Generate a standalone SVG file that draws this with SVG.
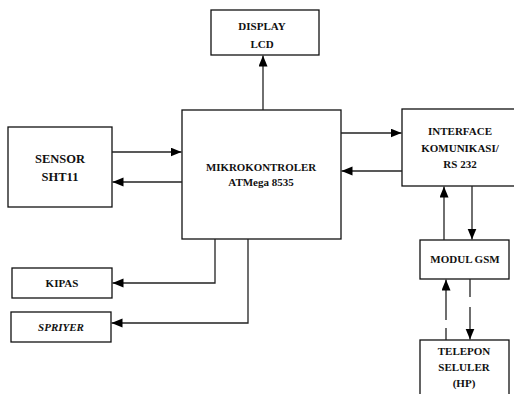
<svg xmlns="http://www.w3.org/2000/svg" width="514" height="394" viewBox="0 0 514 394">
<style>
.box{fill:#fff;stroke:#111;stroke-width:1.3}
.t{font-family:"Liberation Serif","Times New Roman",serif;font-weight:bold;font-size:11px;fill:#111;text-anchor:middle}
.c{fill:none;stroke:#222;stroke-width:1.3}
</style>
<defs>
<marker id="a" markerUnits="userSpaceOnUse" markerWidth="12" markerHeight="10" refX="11" refY="4.5" orient="auto">
<path d="M0,0 L11,4.5 L0,9 Z" fill="#000"/>
</marker>
</defs>
<rect width="514" height="394" fill="#fff"/>
<g id="display">
<rect class="box" x="211" y="10" width="108" height="45"/>
<text class="t" x="262" y="30">DISPLAY</text>
<text class="t" x="262" y="48">LCD</text>
</g>
<g id="sensor">
<rect class="box" x="8" y="127" width="104" height="80"/>
<text class="t" x="60" y="163" style="font-size:12.5px">SENSOR</text>
<text class="t" x="60" y="181" style="font-size:12.5px">SHT11</text>
</g>
<g id="mikro">
<rect class="box" x="182" y="110" width="159" height="129"/>
<text class="t" x="261" y="171" textLength="110" lengthAdjust="spacingAndGlyphs">MIKROKONTROLER</text>
<text class="t" x="261" y="186">ATMega 8535</text>
</g>
<g id="interface">
<rect class="box" x="402" y="109" width="120" height="77"/>
<text class="t" x="460" y="135">INTERFACE</text>
<text class="t" x="460" y="152">KOMUNIKASI/</text>
<text class="t" x="460" y="168">RS 232</text>
</g>
<g id="gsm">
<rect class="box" x="420" y="240" width="89" height="39"/>
<text class="t" x="465" y="263">MODUL GSM</text>
</g>
<g id="telepon">
<rect class="box" x="420" y="340" width="89" height="60"/>
<text class="t" x="464" y="355">TELEPON</text>
<text class="t" x="464" y="371">SELULER</text>
<text class="t" x="464" y="387">(HP)</text>
</g>
<g id="kipas">
<rect class="box" x="12" y="268" width="100" height="30"/>
<text class="t" x="62" y="287">KIPAS</text>
</g>
<g id="spriyer">
<rect class="box" x="11" y="312" width="100" height="30"/>
<text class="t" x="61" y="331" style="font-style:italic">SPRIYER</text>
</g>
<g id="connectors">
<path class="c" d="M263 110 V55.5" marker-end="url(#a)"/>
<path class="c" d="M112 152 H181.5" marker-end="url(#a)"/>
<path class="c" d="M182 182 H112.5" marker-end="url(#a)"/>
<path class="c" d="M341 133 H401.5" marker-end="url(#a)"/>
<path class="c" d="M402 171 H341.5" marker-end="url(#a)"/>
<path class="c" d="M472 186 V239.5" marker-end="url(#a)"/>
<path class="c" d="M444 240 V186.5" marker-end="url(#a)"/>
<path class="c" d="M446 340 V328 M446 320 V279.5" marker-end="url(#a)"/>
<path class="c" d="M470 279 V297 M470 307 V339.5" marker-end="url(#a)"/>
<path class="c" d="M215 239 V283 H112.5" marker-end="url(#a)"/>
<path class="c" d="M248 239 V323 H111.5" marker-end="url(#a)"/>
</g>
</svg>
